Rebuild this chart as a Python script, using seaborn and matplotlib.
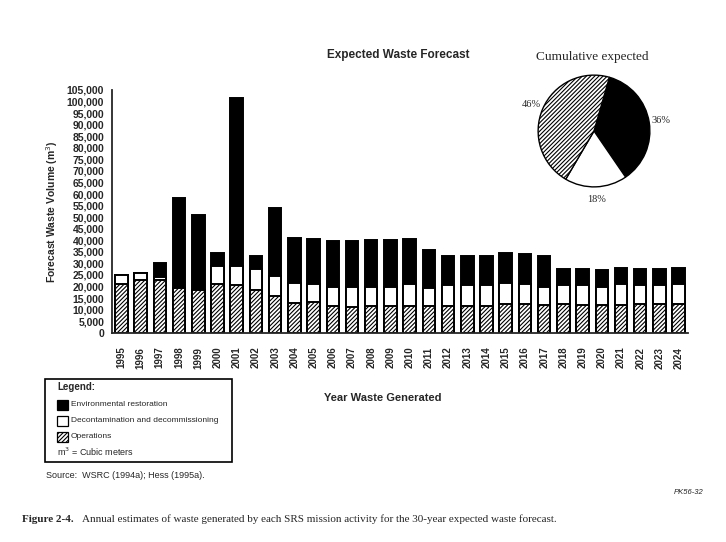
import matplotlib
matplotlib.use('Agg')
import matplotlib.pyplot as plt
from matplotlib.patches import Rectangle
import seaborn as sns
import numpy as np
import pandas as pd

years = [str(y) for y in range(1995, 2025)]
operations = [21000, 23000, 23000, 19500, 18500, 21000, 20500, 18500, 16000, 13000,
              13500, 11500, 11000, 11500, 11500, 11500, 11500, 11500, 11500, 11500,
              12500, 12500, 12000, 12500, 12000, 12000, 12000, 12500, 12500, 12500]
decon = [4000, 3000, 1000, 0, 0, 8000, 8500, 9000, 8500, 8500,
         7500, 8500, 9000, 8500, 8500, 9500, 8000, 9000, 9000, 9000,
         9000, 8500, 8000, 8000, 8500, 8000, 9000, 8000, 8000, 8500]
env_rest = [0, 0, 6000, 39000, 32500, 5500, 72500, 5500, 29500, 19500,
            19500, 19500, 19500, 20000, 20000, 19500, 16500, 12500, 12500, 12500,
            13000, 13000, 13000, 7000, 7000, 7000, 7000, 7000, 7000, 7000]

pie_labels = ['Environmental restoration', 'Decontamination and decommissioning', 'Operations']
pie_pct = [36, 18, 46]

df = pd.DataFrame({'year': years, 'ops': operations, 'dd': decon, 'er': env_rest})
df['ops_dd'] = df['ops'] + df['dd']
df['total'] = df['ops_dd'] + df['er']

sns.set_style('white')
plt.rcParams['font.family'] = ['Liberation Sans', 'DejaVu Sans']
plt.rcParams['hatch.linewidth'] = 0.8
HATCH = '////////'

fig = plt.figure(figsize=(7.26, 5.42), dpi=100)
ax = fig.add_axes([0.154, 0.386, 0.794, 0.448])

# stacked bars drawn as overlapping layers
sns.barplot(data=df, x='year', y='total', color='black', edgecolor='black',
            linewidth=1.4, width=0.65, saturation=1, ax=ax)
sns.barplot(data=df, x='year', y='ops_dd', color='white', edgecolor='black',
            linewidth=1.4, width=0.65, saturation=1, ax=ax)
sns.barplot(data=df, x='year', y='ops', color='white', edgecolor='black',
            linewidth=1.4, width=0.65, saturation=1, hatch=HATCH, ax=ax)

ax.set_xlim(-0.5, 29.5)
ax.set_ylim(0, 105000)
ax.set_yticks(np.arange(0, 105001, 5000))
ax.set_yticklabels([f'{v:,}' for v in range(0, 105001, 5000)], fontsize=7.5, fontweight='bold')
ax.set_xticks(range(30))
ax.set_xticklabels(years, rotation=90, fontsize=7, fontweight='bold')
ax.set_xticks(np.arange(-0.5, 30, 1), minor=True)
ax.tick_params(axis='x', which='major', length=0, pad=10)
ax.tick_params(axis='x', which='minor', direction='inout', length=5, width=1)
ax.tick_params(axis='y', direction='inout', length=5, width=1, pad=3)
sns.despine(ax=ax, top=True, right=True)
for s in ['left', 'bottom']:
    ax.spines[s].set_linewidth(1.3)
ax.set_xlabel('')
ax.set_ylabel('')

fig.text(0.072, 0.61, 'Forecast Waste Volume (m$^3$)', rotation=90, ha='center', va='center',
         fontsize=7.5, fontweight='bold')
fig.text(383 / 726, 1 - 398 / 542, 'Year Waste Generated', ha='center', va='center',
         fontsize=8, fontweight='bold')
fig.text(398 / 726, 1 - 55 / 542, 'Expected Waste Forecast', ha='center', va='center',
         fontsize=8.5, fontweight='bold')

# pie of cumulative share
pax = fig.add_axes([537 / 726, 1 - 188 / 542, 114 / 726, 114 / 542])
wedges, texts, autotexts = pax.pie(pie_pct, colors=['black', 'white', 'white'], startangle=74,
                                   counterclock=False, autopct='%d%%', pctdistance=1.22,
                                   wedgeprops=dict(edgecolor='black', linewidth=1.0),
                                   textprops=dict(family='Liberation Serif', fontsize=7.5))
wedges[2].set_hatch(HATCH)
pax.set_xlim(-1.02, 1.02)
pax.set_ylim(-1.02, 1.02)
pax.set_aspect('equal')
fig.text(592 / 726, 1 - 57 / 542, 'Cumulative expected', ha='center', va='center',
         family='Liberation Serif', fontsize=9.5)

# legend box
fig.patches.append(Rectangle((45 / 726, 1 - 462 / 542), 187 / 726, 83 / 542,
                             transform=fig.transFigure, facecolor='white',
                             edgecolor='black', linewidth=1.2))
fig.text(57 / 726, 1 - 387 / 542, 'Legend:', ha='left', va='center', fontsize=7, fontweight='bold')
rows = [(405, 'black', None), (421, 'white', None), (437, 'white', HATCH)]
for (yy, fc, hh), lab in zip(rows, pie_labels):
    fig.patches.append(Rectangle((57 / 726, 1 - (yy + 5) / 542), 11 / 726, 10 / 542,
                                 transform=fig.transFigure, facecolor=fc,
                                 edgecolor='black', linewidth=0.9, hatch=hh))
    fig.text(71 / 726, 1 - yy / 542, lab, ha='left', va='center', fontsize=6)
fig.text(57 / 726, 1 - 452 / 542, 'm$^3$ = Cubic meters', ha='left', va='center', fontsize=6.5)

fig.text(46 / 726, 1 - 476 / 542, 'Source:  WSRC (1994a); Hess (1995a).', ha='left', va='center',
         fontsize=6.5)
fig.text(704 / 726, 1 - 493 / 542, 'PK56-32', ha='right', va='center', fontsize=5.5,
         style='italic')
fig.text(22 / 726, 1 - 519 / 542, 'Figure 2-4.', ha='left', va='center',
         family='Liberation Serif', fontsize=8, fontweight='bold')
fig.text(82 / 726, 1 - 519 / 542,
         'Annual estimates of waste generated by each SRS mission activity for the 30-year expected waste forecast.',
         ha='left', va='center', family='Liberation Serif', fontsize=8)

fig.savefig('out.png', dpi=100)
